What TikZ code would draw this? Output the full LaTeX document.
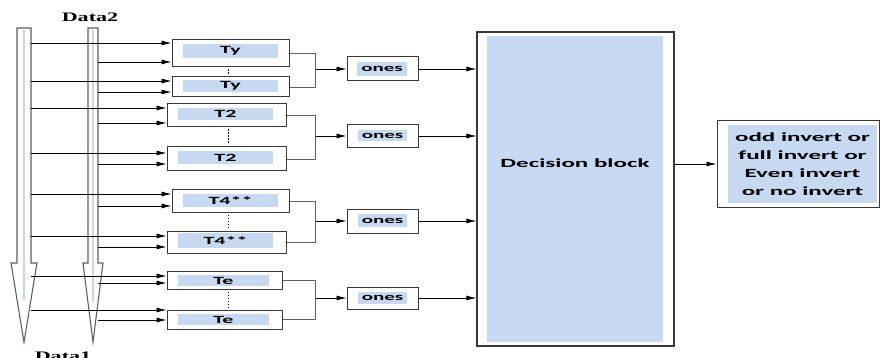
\documentclass[tikz,border=0pt]{standalone}
\usepackage{fontspec}
\usepackage{tikz}
\usetikzlibrary{arrows.meta,positioning}
\newfontfamily\blkfont{Carlito}[FakeStretch=2.0]
\newfontfamily\datafont{Liberation Serif}[FakeStretch=1.7]
\definecolor{tagblue}{RGB}{198,217,240}
\definecolor{edge}{RGB}{55,55,55}
\definecolor{bus}{RGB}{95,95,95}
\tikzset{
  unit/.style ={draw=edge,line width=1pt,fill=white,inner sep=0pt},
  tag/.style  ={fill=tagblue,inner sep=0pt,font=\blkfont\bfseries\fontsize{11}{13}\selectfont},
  cnt/.style  ={fill=tagblue,inner sep=0pt,font=\blkfont\bfseries\fontsize{10.5}{13}\selectfont},
  big/.style  ={font=\blkfont\bfseries\fontsize{12.5}{18}\selectfont},
  lab/.style  ={font=\datafont\bfseries\fontsize{13}{15}\selectfont,inner sep=0pt},
  busline/.style={draw=bus,line width=1.1pt,fill=white},
  wire/.style ={draw=bus,line width=0.8pt},
  gap/.style  ={dash pattern=on 1.5pt off 1.5pt,line width=1pt,shorten <=2pt,shorten >=2pt},
  ar/.style   ={-{Latex[length=10pt,width=5pt]},line width=0.7pt},
}
\begin{document}
\begin{tikzpicture}[x=1pt,y=-1pt]
  \useasboundingbox (0,0) rectangle (880,358);
  % data buses
  \draw[busline] (17,28) -- (17,263) -- (11,263) -- (24,342) -- (37,263) -- (31,263) -- (31,28) -- cycle;
  \draw[tagblue,line width=1.2pt] (24,30) -- (24,300);
  \draw[busline] (88,28) -- (88,263) -- (83,263) -- (93,342) -- (103,263) -- (98,263) -- (98,28) -- cycle;
  \draw[tagblue,line width=1.2pt] (93,30) -- (93,302);
  \coordinate (dL) at (31,0);
  \coordinate (dR) at (98,0);
  \node[lab] (d2) at (90,17) {Data2};
  \node[lab,anchor=base] (d1) at (63,360) {Data1};

  % pattern blocks
  \node[unit,minimum width=117,minimum height=27] (ty1) at (230.5,53.5) {};
  \node[tag,minimum width=95,minimum height=14] (ty1t) at (230.5,51) {Ty};
  \node[unit,minimum width=117,minimum height=20] (ty2) at (230.5,87) {};
  \node[tag,minimum width=95,minimum height=12] (ty2t) at (230.5,86) {Ty};
  \node[unit,minimum width=119,minimum height=23] (t2a) at (226.5,115.5) {};
  \node[tag,minimum width=95,minimum height=12] (t2at) at (225.5,114) {T2};
  \node[unit,minimum width=119,minimum height=24] (t2b) at (226.5,159) {};
  \node[tag,minimum width=95,minimum height=13] (t2bt) at (225.5,157.5) {T2};
  \node[unit,minimum width=117,minimum height=22] (t4a) at (230.5,201) {};
  \node[tag,minimum width=95,minimum height=13] (t4at) at (230.5,200.5) {T4**};
  \node[unit,minimum width=119,minimum height=22] (t4b) at (226.5,242) {};
  \node[tag,minimum width=95,minimum height=15] (t4bt) at (225.5,240.5) {T4**};
  \node[unit,minimum width=115,minimum height=18] (tea) at (224.5,280) {};
  \node[tag,minimum width=91,minimum height=11] (teat) at (223.5,280.5) {Te};
  \node[unit,minimum width=115,minimum height=19] (teb) at (224.5,319.5) {};
  \node[tag,minimum width=91,minimum height=11] (tebt) at (223.5,319.5) {Te};

  \draw[gap] ([xshift=-2pt]ty1.south) -- ([xshift=-2pt]ty1.south |- ty2.north);
  \draw[gap] ([xshift=1.5pt]t2a.south) -- ([xshift=1.5pt]t2a.south |- t2b.north);
  \draw[gap] ([xshift=-2pt]t4a.south) -- ([xshift=-2pt]t4a.south |- t4b.north);
  \draw[gap] ([xshift=3.5pt]tea.south) -- ([xshift=3.5pt]tea.south |- teb.north);

  \foreach \b/\ua/\ub in {ty1/10.5/-8.5,ty2/6/-5,t2a/7.5/-7.5,t2b/6/-5,t4a/7/-5,t4b/6/-5,tea/4/-3,teb/9.5/-0.5}{
    \draw[ar] ([yshift=\ua pt]dL |- \b.west) -- ([yshift=\ua pt]\b.west);
    \draw[ar] ([yshift=\ub pt]dR |- \b.west) -- ([yshift=\ub pt]\b.west);
  }

  % counters
  \node[unit,minimum width=71,minimum height=24] (ones1) at (382.5,69) {};
  \node[cnt,minimum width=50,minimum height=14] (ones1t) at (382,69) {ones};
  \node[unit,minimum width=71,minimum height=23] (ones2) at (382.5,136) {};
  \node[cnt,minimum width=49,minimum height=11] (ones2t) at (382.5,136) {ones};
  \node[unit,minimum width=71,minimum height=24] (ones3) at (382.5,221) {};
  \node[cnt,minimum width=49,minimum height=13] (ones3t) at (382.5,220.5) {ones};
  \node[unit,minimum width=71,minimum height=22] (ones4) at (382.5,298) {};
  \node[cnt,minimum width=49,minimum height=12] (ones4t) at (382.5,298) {ones};

  \coordinate[left=31pt of ones1.west] (j1);
  \coordinate[left=31pt of ones2.west] (j2);
  \coordinate[left=31pt of ones3.west] (j3);
  \coordinate[left=31pt of ones4.west] (j4);
  \draw[wire] (ty1.east) -| (j1) |- (ty2.east);
  \draw[wire] (t2a.east) -| (j2) |- (t2b.east);
  \draw[wire] (t4a.east) -| (j3) |- (t4b.east);
  \draw[wire] (tea.east) -| (j4) |- (teb.east);
  \draw[ar] (j1) -- (ones1);
  \draw[ar] (j2) -- (ones2);
  \draw[ar] (j3) -- (ones3);
  \draw[ar] (j4) -- (ones4);

  % decision
  \node[unit,line width=1.2pt,minimum width=197,minimum height=314] (dec) at (575.5,189) {};
  \node[tag,minimum width=176,minimum height=306] (decin) at (575,189) {};
  \node[big] (dectxt) at (575,163) {Decision block};
  \draw[ar] (ones1) -- (ones1 -| dec.west);
  \draw[ar] (ones2) -- (ones2 -| dec.west);
  \draw[ar] (ones3) -- (ones3 -| dec.west);
  \draw[ar] (ones4) -- (ones4 -| dec.west);

  \node[unit,minimum width=162,minimum height=86] (out) at (798,164) {};
  \node[tag,big,minimum width=149,minimum height=78,align=center] (outin) at (802.5,164)
    {odd invert or\\full invert or\\Even invert\\or no invert};
  \draw[ar] (out.west -| dec.east) -- (out.west);
\end{tikzpicture}
\end{document}
